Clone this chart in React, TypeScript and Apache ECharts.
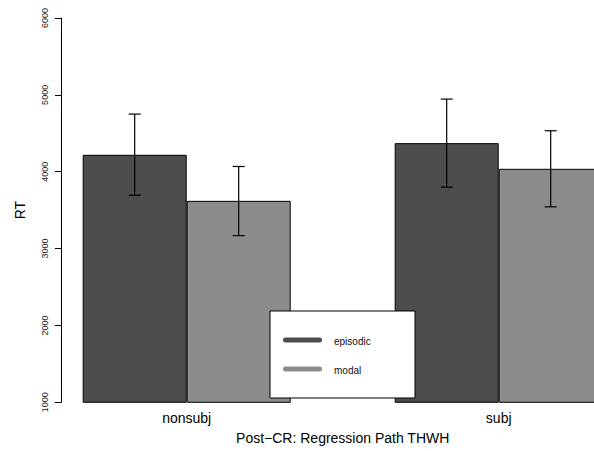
import React, { useEffect, useRef } from "react";
import * as echarts from "echarts";

const categories = ["nonsubj", "subj"];
const seriesNames = ["episodic", "modal"];
const episodic = [4220, 4372];
const modal = [3621, 4038];
const episodicLow = [3695, 3800];
const episodicHigh = [4750, 4945];
const modalLow = [3169, 3543];
const modalHigh = [4068, 4533];
const yTicks = { min: 1000, max: 6000, interval: 1000 };

const colors = ["#4d4d4d", "#8c8c8c"];
const FONT = "Liberation Sans, Arial, Helvetica, sans-serif";

export default function App() {
  const ref = useRef<HTMLDivElement>(null);
  useEffect(() => {
    if (!ref.current) return;
    const chart = echarts.init(ref.current, null, { renderer: "svg" });
    const errData: number[][] = [];
    categories.forEach((_, i) => {
      errData.push([i, 0, episodicLow[i], episodicHigh[i]]);
      errData.push([i, 1, modalLow[i], modalHigh[i]]);
    });
    const Z = 100;
    const option: any = {
      animation: false,
      backgroundColor: "#ffffff",
      textStyle: { fontFamily: FONT },
      grid: [
        { left: 61, top: 18, height: 384.3, right: 0, outerBoundsMode: "none", containLabel: false },
        { left: 30.7, top: 18, height: 384.3, width: 624, outerBoundsMode: "none", containLabel: false },
      ],
      xAxis: [
        { gridIndex: 0, type: "value", show: false },
        {
          gridIndex: 1,
          type: "category",
          data: categories,
          axisLine: { show: false },
          axisTick: { show: false },
          axisLabel: { fontSize: 14, color: "#000", margin: 9, fontFamily: FONT },
          name: "Post\u2212CR: Regression Path THWH",
          nameLocation: "middle",
          nameGap: 29,
          nameTextStyle: { fontSize: 14, color: "#000", fontFamily: FONT },
        },
      ],
      yAxis: [
        {
          gridIndex: 0,
          type: "value",
          min: yTicks.min,
          max: yTicks.max,
          interval: yTicks.interval,
          axisLine: { show: true, lineStyle: { color: "#000", width: 1 } },
          axisTick: { show: true, length: 6, lineStyle: { color: "#000" } },
          axisLabel: {
            rotate: 90,
            fontSize: 9,
            color: "#222",
            margin: 12,
            fontFamily: FONT,
            formatter: (v: number) => String(v),
          },
          splitLine: { show: false },
          name: "RT",
          nameLocation: "middle",
          nameGap: 34,
          nameTextStyle: { fontSize: 14, color: "#000", fontFamily: FONT },
        },
        {
          gridIndex: 1,
          type: "value",
          min: yTicks.min,
          max: yTicks.max,
          show: false,
        },
      ],
      series: [
        {
          type: "bar",
          name: seriesNames[0],
          xAxisIndex: 1,
          yAxisIndex: 1,
          data: episodic,
          barWidth: 104,
          barGap: "0%",
          itemStyle: { color: colors[0], borderColor: "#000", borderWidth: 1 },
        },
        {
          type: "bar",
          name: seriesNames[1],
          xAxisIndex: 1,
          yAxisIndex: 1,
          data: modal,
          barWidth: 104,
          barGap: "0%",
          itemStyle: { color: colors[1], borderColor: "#000", borderWidth: 1 },
        },
        {
          type: "custom",
          xAxisIndex: 1,
          yAxisIndex: 1,
          z: 10,
          data: errData,
          encode: { x: 0, y: [2, 3] },
          renderItem: (params: any, api: any) => {
            const c = api.value(0);
            const s = api.value(1);
            const lo = api.coord([c, api.value(2)]);
            const hi = api.coord([c, api.value(3)]);
            const bw = api.size([1, 0])[0];
            const x = lo[0] + (s === 0 ? -1 : 1) * (bw / 6);
            const cap = 6;
            const st = { stroke: "#000", lineWidth: 1.2 };
            return {
              type: "group",
              children: [
                { type: "line", shape: { x1: x, y1: lo[1], x2: x, y2: hi[1] }, style: st },
                { type: "line", shape: { x1: x - cap, y1: lo[1], x2: x + cap, y2: lo[1] }, style: st },
                { type: "line", shape: { x1: x - cap, y1: hi[1], x2: x + cap, y2: hi[1] }, style: st },
              ],
            };
          },
        },
      ],
      graphic: [
        {
          type: "rect",
          z: Z,
          shape: { x: 270, y: 311, width: 145, height: 87 },
          style: { fill: "#fff", stroke: "#000", lineWidth: 1 },
        },
        {
          type: "line",
          z: Z + 1,
          shape: { x1: 285.5, y1: 340, x2: 319.5, y2: 340 },
          style: { stroke: colors[0], lineWidth: 5, lineCap: "round" },
        },
        {
          type: "line",
          z: Z + 1,
          shape: { x1: 285.5, y1: 369, x2: 319.5, y2: 369 },
          style: { stroke: colors[1], lineWidth: 5, lineCap: "round" },
        },
        {
          type: "text",
          z: Z + 1,
          x: 334,
          y: 341,
          style: { text: seriesNames[0], fontSize: 10, fill: "#111", fontFamily: FONT, verticalAlign: "middle" },
        },
        {
          type: "text",
          z: Z + 1,
          x: 334,
          y: 370,
          style: { text: seriesNames[1], fontSize: 10, fill: "#111", fontFamily: FONT, verticalAlign: "middle" },
        },
      ],
    };
    chart.setOption(option);
    return () => chart.dispose();
  }, []);
  return (
    <div
      ref={ref}
      style={{ position: "fixed", left: 0, top: 0, width: 594, height: 451 }}
    />
  );
}
